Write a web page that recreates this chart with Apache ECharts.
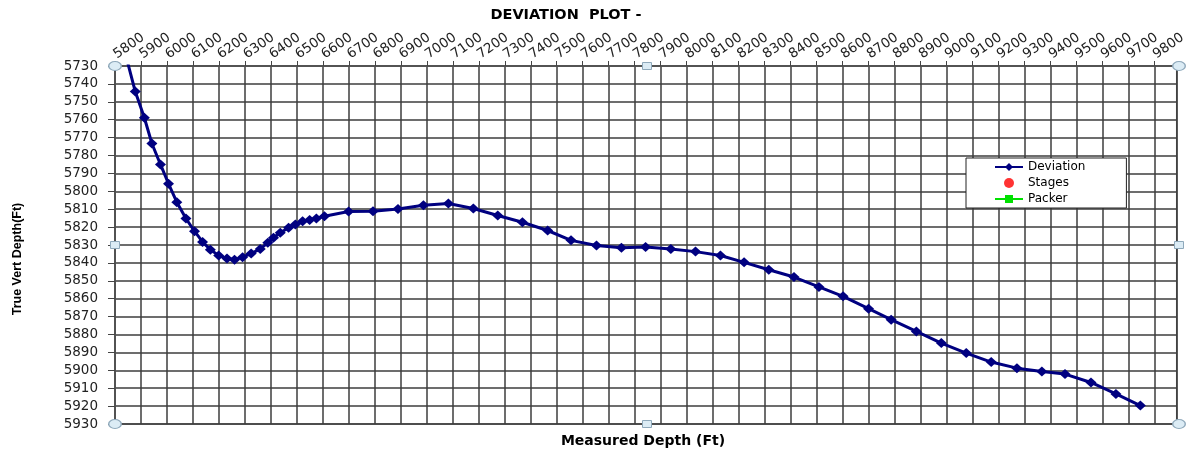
<!DOCTYPE html>
<html>
<head>
<meta charset="utf-8">
<script src="https://cdn.jsdelivr.net/npm/echarts@6/dist/echarts.min.js"></script>
<style>
html, body { margin: 0; padding: 0; background: #fff; }
#chart { width: 1189px; height: 455px; }
</style>
</head>
<body>
<div id="chart"></div>
<script>
// survey points
var measuredDepth = [5845, 5878, 5913, 5942, 5975, 6006, 6038, 6073, 6106, 6137,
  6167, 6199, 6231, 6260, 6291, 6324, 6359, 6388, 6410, 6436,
  6468, 6494, 6522, 6549, 6575, 6606, 6699, 6793, 6889, 6987,
  7083, 7179, 7273, 7368, 7465, 7555, 7653, 7749, 7842, 7939,
  8034, 8130, 8221, 8316, 8413, 8509, 8602, 8700, 8787, 8884,
  8980, 9076, 9172, 9271, 9367, 9456, 9556, 9652, 9746];
var trueVertDepth = [5726, 5744.3, 5758.9, 5773.3, 5785, 5795.8, 5806.1, 5815.2, 5822.3, 5828.3,
  5832.6, 5835.8, 5837.6, 5838.2, 5836.8, 5834.8, 5832.2, 5828.8, 5825.9, 5823.2,
  5820.4, 5818.6, 5816.7, 5816.1, 5815.2, 5813.9, 5811.3, 5811.1, 5809.9, 5807.8,
  5806.8, 5809.6, 5813.5, 5817.3, 5821.9, 5827.4, 5830.3, 5831.6, 5831.1, 5832.2,
  5833.7, 5835.9, 5839.7, 5843.8, 5847.9, 5853.4, 5858.7, 5865.6, 5871.7, 5878.3,
  5884.8, 5890.4, 5895.4, 5898.8, 5900.7, 5902.1, 5906.8, 5913.2, 5919.7];
var stagesData = [];
var packerData = [];
var seriesNames = ['Deviation', 'Stages', 'Packer'];

var mdMin = 5800, mdMax = 9886, mdStep = 100;
var tvdMin = 5730, tvdMax = 5930, tvdStep = 10;

// plot area box
var gl = 115, gt = 66, gw = 1064, gh = 358;

var deviation = [];
for (var i = 0; i < measuredDepth.length; i++) {
  deviation.push([measuredDepth[i], trueVertDepth[i]]);
}

// the little selection handles round the plot area
function handles() {
  var out = [];
  var xs = [gl, gl + gw / 2, gl + gw];
  var ys = [gt, gt + gh / 2, gt + gh];
  for (var a = 0; a < 3; a++) {
    for (var b = 0; b < 3; b++) {
      if (a == 1 && b == 1) continue;
      var corner = (a != 1 && b != 1);
      var st = { fill: '#dcecf5', stroke: '#8fa9bb', lineWidth: 1 };
      if (corner) {
        out.push({ type: 'circle', silent: true, z: 100, x: xs[a], y: ys[b], scaleX: 1.4,
          shape: { cx: 0, cy: 0, r: 4.5 }, style: st });
      } else {
        out.push({ type: 'rect', silent: true, z: 100,
          shape: { x: xs[a] - 4.5, y: ys[b] - 3.5, width: 9, height: 7 }, style: st });
      }
    }
  }
  return out;
}

function plain(v) { return String(v); }

var chart = echarts.init(document.getElementById('chart'));

var gfx = handles();
gfx.push({ type: 'text', silent: true, x: 566, y: 15,
  style: { text: 'DEVIATION  PLOT -', font: 'bold 14.5px "DejaVu Sans"', fill: '#000',
    textAlign: 'center', textVerticalAlign: 'middle' } });
gfx.push({ type: 'text', silent: true, x: 643, y: 441,
  style: { text: 'Measured Depth (Ft)', font: 'bold 14px "DejaVu Sans"', fill: '#000',
    textAlign: 'center', textVerticalAlign: 'middle' } });
gfx.push({ type: 'text', silent: true, x: 18, y: 259, rotation: Math.PI / 2,
  style: { text: 'True Vert Depth(Ft)', font: 'bold 12.5px "Liberation Sans"', fill: '#000',
    textAlign: 'center', textVerticalAlign: 'middle' } });

var option = {
  backgroundColor: '#fff',
  animation: false,
  grid: {
    left: gl, top: gt, width: gw, height: gh,
    show: true, borderColor: '#555', borderWidth: 1.5, backgroundColor: '#fff'
  },
  legend: {
    data: seriesNames,
    orient: 'vertical',
    left: 966, top: 158,
    padding: [3, 41, 3, 28],
    itemWidth: 28, itemHeight: 10, itemGap: 4,
    backgroundColor: '#fff',
    borderColor: '#222', borderWidth: 1, borderRadius: 0,
    textStyle: { fontFamily: 'DejaVu Sans', fontSize: 12, color: '#000', lineHeight: 12 }
  },
  xAxis: {
    type: 'value',
    position: 'top',
    min: mdMin, max: mdMax, interval: mdStep,
    axisLine: { show: true, lineStyle: { color: '#555', width: 1.5 } },
    axisTick: { show: true, length: 5, lineStyle: { color: '#444' } },
    axisLabel: { rotate: -35, margin: 10, fontFamily: 'DejaVu Sans', fontSize: 13.5,
      color: '#222', showMaxLabel: false, formatter: plain },
    splitLine: { show: true, lineStyle: { color: '#3c3c3c', width: 1.5 } }
  },
  yAxis: {
    type: 'value',
    inverse: true,
    min: tvdMin, max: tvdMax, interval: tvdStep,
    axisLine: { show: true, lineStyle: { color: '#555', width: 1.5 } },
    axisTick: { show: true, length: 7, lineStyle: { color: '#444' } },
    axisLabel: { margin: 17, fontFamily: 'DejaVu Sans', fontSize: 13.5, color: '#222', formatter: plain },
    splitLine: { show: true, lineStyle: { color: '#3c3c3c', width: 1.5 } }
  },
  series: [
    {
      name: 'Deviation', type: 'line', data: deviation, clip: true, z: 5,
      symbol: 'diamond', symbolSize: [11, 10],
      lineStyle: { color: '#000080', width: 3 },
      itemStyle: { color: '#000080' }
    },
    {
      name: 'Stages', type: 'scatter', data: stagesData,
      symbol: 'circle', symbolSize: 8, itemStyle: { color: '#ff0000' }
    },
    {
      name: 'Packer', type: 'line', data: packerData,
      symbol: 'rect', symbolSize: 7,
      lineStyle: { color: '#00e000', width: 1 }, itemStyle: { color: '#00e000' }
    }
  ],
  graphic: gfx
};

chart.setOption(option);
</script>
</body>
</html>
